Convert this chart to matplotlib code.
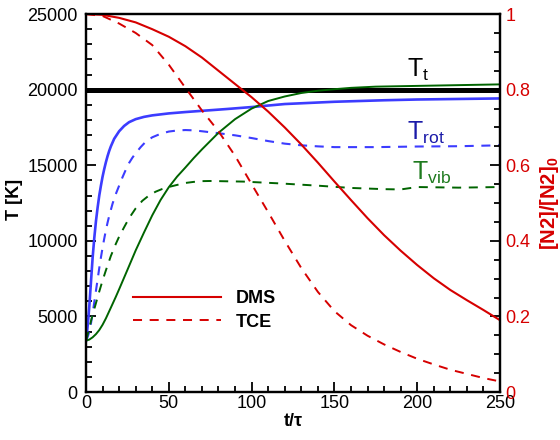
import numpy as np
import matplotlib.pyplot as plt

plt.rcParams['font.family'] = ['Liberation Sans', 'DejaVu Sans']
plt.rcParams['mathtext.fontset'] = 'custom'
plt.rcParams['mathtext.rm'] = 'Liberation Sans'
plt.rcParams['mathtext.bf'] = 'Liberation Sans:bold'
plt.rcParams['lines.scale_dashes'] = False

# translational temperature (fluctuates around the bath value)
t_tt = [0, 250]
T_tt = [20000, 20000]

# rotational temperature
t_rot_dms = [0, 0.5, 1, 1.5, 2, 3, 4, 5, 6, 7, 8, 9, 10, 11, 12, 13, 14, 15, 17, 20, 23, 26, 30, 35, 40,
             50, 60, 70, 85, 100, 120, 150, 180, 200, 250]
T_rot_dms = [3400, 3800, 4400, 5000, 5700, 7300, 8900, 10200, 11300, 12200, 13000, 13650, 14250, 14750,
             15200, 15600, 15950, 16250, 16750, 17250, 17600, 17850, 18050, 18200, 18300, 18430, 18520,
             18600, 18720, 18850, 19050, 19200, 19300, 19350, 19420]
t_rot_tce = [0, 1, 2, 3, 4, 5, 6, 7, 8, 9, 10, 11, 12, 13, 14, 16, 18, 20, 22, 24, 26, 28, 30, 33, 36, 40,
             45, 50, 55, 60, 65, 70, 80, 90, 100, 110, 120, 130, 140, 150, 175, 200, 225, 250]
T_rot_tce = [3400, 3650, 4000, 4550, 5200, 5950, 6700, 7450, 8200, 8900, 9550, 10150, 10700, 11200, 11650,
             12450, 13100, 13650, 14200, 14700, 15150, 15500, 15800, 16200, 16550, 16850, 17080, 17230,
             17300, 17330, 17310, 17250, 17120, 16980, 16800, 16600, 16430, 16320, 16250, 16200, 16200,
             16240, 16260, 16320]

# vibrational temperature
t_vib_dms = [0, 2, 4, 6, 8, 10, 12, 15, 18, 20, 25, 30, 35, 40, 45, 50, 55, 60, 65, 70, 75, 80, 90, 100,
             110, 120, 130, 140, 150, 160, 175, 200, 225, 250]
T_vib_dms = [3400, 3470, 3620, 3830, 4100, 4450, 4870, 5580, 6300, 6800, 8080, 9370, 10550, 11690, 12700,
             13550, 14250, 14850, 15470, 16050, 16600, 17150, 18050, 18750, 19250, 19550, 19780, 19930,
             20030, 20120, 20200, 20250, 20300, 20350]
t_vib_tce = [0, 1, 2, 3, 4, 6, 8, 10, 12, 15, 18, 20, 23, 26, 30, 34, 38, 42, 46, 50, 55, 60, 65, 70, 75,
             80, 95, 117, 140, 160, 180, 190, 195, 200, 225, 250]
T_vib_tce = [3400, 3800, 4250, 4700, 5120, 5880, 6650, 7380, 8050, 9000, 9800, 10280, 10900, 11500, 12150,
             12650, 13000, 13250, 13430, 13565, 13700, 13830, 13900, 13950, 13960, 13950, 13920, 13800,
             13650, 13500, 13420, 13400, 13480, 13560, 13520, 13560]

# N2 concentration, normalised by its initial value
t_n2 = [0, 10, 20, 30, 40, 50, 60, 70, 80, 90, 100, 110, 120, 130, 140, 150, 160, 170, 180, 190, 200,
        210, 220, 230, 240, 250]
n2_dms = [1.0, 0.998, 0.99, 0.978, 0.96, 0.94, 0.915, 0.885, 0.85, 0.815, 0.78, 0.742, 0.70, 0.655,
          0.607, 0.557, 0.508, 0.46, 0.415, 0.374, 0.336, 0.301, 0.27, 0.243, 0.217, 0.19]
n2_tce = [1.0, 0.995, 0.975, 0.95, 0.918, 0.866, 0.805, 0.745, 0.69, 0.625, 0.55, 0.476, 0.40, 0.328,
          0.265, 0.214, 0.177, 0.149, 0.126, 0.106, 0.088, 0.073, 0.059, 0.048, 0.037, 0.028]

RED = '#d60000'
BLUE = '#3c3cff'
GREEN = '#006400'
DASH = (0, (6.5, 5.5))

fig = plt.figure(figsize=(5.6, 4.4), dpi=100)
ax = fig.add_axes([0.1536, 0.109, 0.7393, 0.859])
ax2 = ax.twinx()

ax.plot(t_tt, T_tt, color='black', lw=3.6)
ax.plot(t_rot_dms, T_rot_dms, color=BLUE, lw=1.9)
ax.plot(t_rot_tce, T_rot_tce, color=BLUE, lw=1.5, ls=DASH)
ax.plot(t_vib_dms, T_vib_dms, color=GREEN, lw=1.4)
ax.plot(t_vib_tce, T_vib_tce, color=GREEN, lw=1.4, ls=DASH)

l1, = ax2.plot(t_n2, n2_dms, color=RED, lw=1.5, label='DMS')
l2, = ax2.plot(t_n2, n2_tce, color=RED, lw=1.4, ls=DASH, label='TCE')

ax.set_xlim(0, 250)
ax.set_ylim(0, 25000)
ax2.set_ylim(0, 1)

ax.set_xticks(np.arange(0, 251, 50))
ax.set_xticks(np.arange(0, 251, 10), minor=True)
ax.set_yticks(np.arange(0, 25001, 5000))
ax.set_yticks(np.arange(0, 25001, 1000), minor=True)
ax2.set_yticks([0, 0.2, 0.4, 0.6, 0.8, 1])
ax2.set_yticklabels(['0', '0.2', '0.4', '0.6', '0.8', '1'])
ax2.set_yticks(np.arange(0, 1.001, 0.05), minor=True)

ax.tick_params(which='both', direction='in', width=1.3, labelsize=13)
ax.tick_params(which='major', length=7)
ax.tick_params(which='minor', length=4)
ax.tick_params(axis='x', pad=2)
ax.tick_params(axis='y', pad=6, right=False)
ax2.tick_params(which='both', direction='in', width=1.3, labelsize=13, colors='black',
                labelcolor=RED, pad=4)
ax2.tick_params(which='major', length=7)
ax2.tick_params(which='minor', length=4)

for a in (ax, ax2):
    for s in a.spines.values():
        s.set_linewidth(1.6)

ax.set_xlabel('t/τ', fontsize=13, fontweight='bold', labelpad=1)
ax.set_ylabel('T [K]', fontsize=13, fontweight='bold')
ax.yaxis.set_label_coords(-0.152, 0.51)
ax2.set_ylabel(r'[N2]/[N2]$_\mathbf{0}$', fontsize=14.5, fontweight='bold', color=RED)
ax2.yaxis.set_label_coords(1.092, 0.5)

ax.text(193.8, 20833, r'T$_\mathrm{t}$', fontsize=18, color='black', va='baseline')
ax.text(193.8, 16667, r'T$_\mathrm{rot}$', fontsize=18, color='#1a1aa8', va='baseline')
ax.text(196.9, 14020, r'T$_\mathrm{vib}$', fontsize=18, color='#1e7a1e', va='baseline')

leg = ax2.legend(handles=[l1, l2], loc='center left', bbox_to_anchor=(0.1135, 0.2156),
                 frameon=False, borderpad=0, borderaxespad=0, handlelength=4.9,
                 handletextpad=0.8, labelspacing=0.35, prop={'size': 13, 'weight': 'bold'})

fig.savefig('out.png', dpi=100)
